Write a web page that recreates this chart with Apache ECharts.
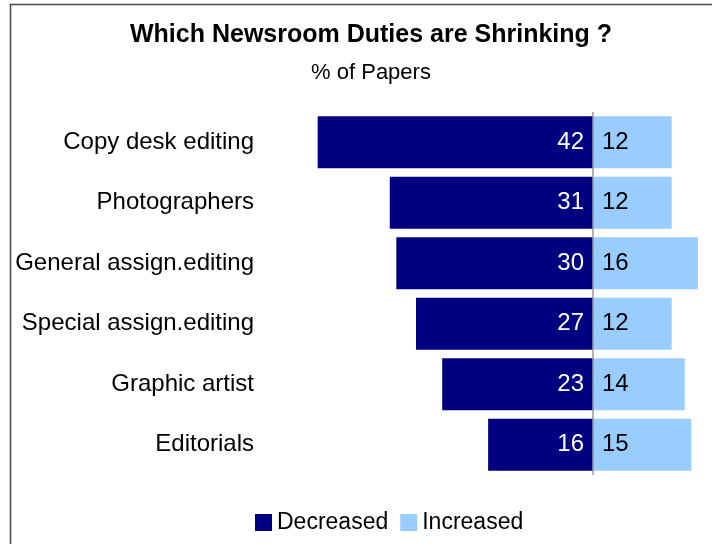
<!DOCTYPE html>
<html>
<head>
<meta charset="utf-8">
<script src="https://cdn.jsdelivr.net/npm/echarts@6/dist/echarts.min.js"></script>
<style>
  html, body { margin: 0; padding: 0; background: #fff; }
  #chart { width: 712px; height: 544px; }
</style>
</head>
<body>
<div id="chart"></div>
<script>
// Newsroom duties, top to bottom
const duties = [
  'Copy desk editing',
  'Photographers',
  'General assign.editing',
  'Special assign.editing',
  'Graphic artist',
  'Editorials'
];
// % of papers reporting a decrease / an increase
const decreased = [42, 31, 30, 27, 23, 16];
const increased = [12, 12, 16, 12, 14, 15];

const FONT = 'Liberation Sans';
const chart = echarts.init(document.getElementById('chart'));

chart.setOption({
  animation: false,
  backgroundColor: '#fff',
  textStyle: { fontFamily: FONT },
  title: {
    text: 'Which Newsroom Duties are Shrinking ?',
    subtext: '% of Papers',
    left: 366,
    textAlign: 'center',
    top: 18,
    itemGap: 14,
    textStyle: { fontFamily: FONT, fontSize: 25, fontWeight: 'bold', color: '#000' },
    subtextStyle: { fontFamily: FONT, fontSize: 22, color: '#000' }
  },
  legend: {
    bottom: 5,
    left: 250,
    itemWidth: 17,
    itemHeight: 17,
    itemGap: 12,
    icon: 'rect',
    textStyle: { fontFamily: FONT, fontSize: 23, color: '#000' },
    data: ['Decreased', 'Increased']
  },
  grid: { left: 298, right: 1, top: 112, bottom: 69, containLabel: false },
  xAxis: {
    type: 'value',
    min: -45,
    max: 18,
    show: false
  },
  yAxis: {
    type: 'category',
    data: duties,
    inverse: true,
    axisLine: { show: false },
    axisTick: { show: false },
    axisLabel: { margin: 44, fontFamily: FONT, fontSize: 24, color: '#000' }
  },
  series: [
    {
      name: 'Decreased',
      type: 'bar',
      stack: 'net',
      barCategoryGap: '14%',
      itemStyle: { color: '#000080' },
      label: {
        show: true,
        position: 'insideRight',
        distance: 9,
        color: '#fff',
        fontFamily: FONT,
        fontSize: 24,
        formatter: p => Math.abs(p.value)
      },
      data: decreased.map(v => -v),
      markLine: {
        silent: true,
        symbol: 'none',
        label: { show: false },
        lineStyle: { color: '#999', width: 1.5, type: 'solid' },
        data: [{ xAxis: 0 }]
      }
    },
    {
      name: 'Increased',
      type: 'bar',
      stack: 'net',
      barCategoryGap: '14%',
      itemStyle: { color: '#99CCFF' },
      label: {
        show: true,
        position: 'insideLeft',
        distance: 9,
        color: '#000',
        fontFamily: FONT,
        fontSize: 24
      },
      data: increased
    }
  ],
  graphic: [{
    type: 'rect',
    left: 8,
    top: 2,
    shape: { width: 720, height: 560 },
    style: { fill: 'none', stroke: '#444', lineWidth: 1.5 },
    silent: true,
    z: 100
  }]
});
</script>
</body>
</html>
